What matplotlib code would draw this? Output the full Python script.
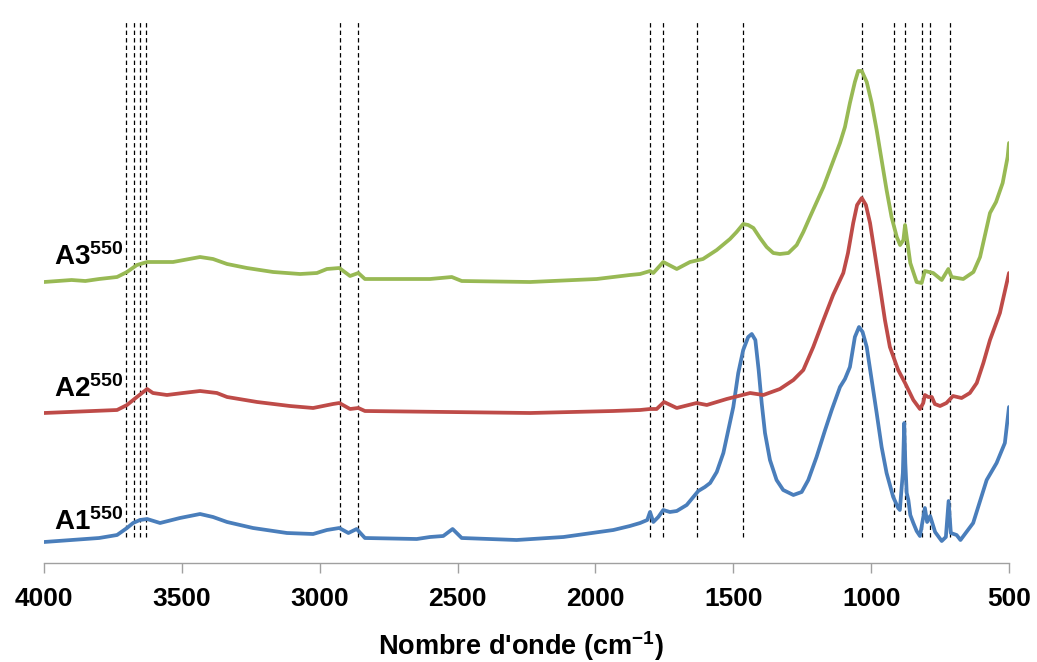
import matplotlib
matplotlib.use("Agg")
import matplotlib.pyplot as plt
import numpy as np

plt.rcParams['font.family'] = ['Liberation Sans', 'DejaVu Sans']
plt.rcParams['mathtext.fontset'] = 'custom'
plt.rcParams['mathtext.rm'] = 'Liberation Sans:bold'
plt.rcParams['mathtext.bf'] = 'Liberation Sans:bold'
plt.rcParams['mathtext.default'] = 'bf'

# ---- data (wavenumber cm-1, relative absorbance, offset spectra) ----
wn_A3 = [4000, 3900, 3850, 3800, 3735, 3699, 3663, 3626, 3532, 3434, 3387, 3336, 3264, 3169, 3071,
         3010, 2974, 2929, 2890, 2860, 2836, 2600, 2521, 2485,
         2237, 1995, 1875, 1838, 1814, 1802, 1790, 1754, 1705, 1657, 1610, 1560, 1512, 1488, 1464,
         1446, 1427, 1403, 1379, 1355, 1331, 1300, 1270, 1246, 1222, 1173, 1143, 1113, 1095, 1077,
         1059, 1047, 1034, 1016, 998, 980, 962, 944, 926, 907, 895, 883, 877, 871, 858, 835, 817,
         805, 775, 744, 720, 708, 666, 629, 605, 569, 547, 523, 505, 500]
ab_A3 = [281, 283, 282, 284, 286, 291, 298, 301, 301, 306, 304, 299, 295, 291, 289,
         290, 294, 295, 287, 290, 284, 284, 286, 282,
         281, 284, 288, 289, 291, 292, 290, 301, 294, 301, 304, 313, 324, 331, 339,
         338, 335, 325, 316, 310, 309, 310, 318, 331, 346, 376, 398, 420, 436, 460,
         481, 492, 492, 481, 460, 433, 403, 373, 346, 326, 318, 323, 338, 326, 300, 281, 280,
         292, 290, 283, 294, 286, 284, 291, 306, 350, 361, 380, 406, 420]

wn_A2 = [4000, 3735, 3699, 3663, 3626, 3605, 3554, 3496, 3434, 3373, 3336, 3227, 3108, 3024, 2952,
         2929, 2890, 2860, 2836,
         2237, 1935, 1838, 1802, 1778, 1751, 1705, 1633, 1596, 1524, 1439, 1391, 1331, 1282, 1246,
         1210, 1173, 1138, 1101, 1084, 1065, 1051, 1034, 1019, 1004, 987, 968, 950, 932, 902, 877,
         847, 823, 811, 805, 793, 780, 769, 750, 727, 703, 672, 642, 617, 593, 569, 533, 500]
ab_A2 = [150, 153, 158, 166, 174, 170, 168, 170, 172, 170, 166, 161, 157, 155, 159,
         160, 154, 155, 152,
         150, 152, 153, 154, 154, 161, 155, 160, 158, 164, 170, 168, 174, 183, 193,
         216, 243, 268, 290, 310, 340, 358, 365, 358, 340, 310, 276, 243, 216, 193, 180,
         163, 154, 160, 168, 166, 166, 159, 157, 160, 167, 165, 170, 180, 200, 223, 250, 290]

wn_A1 = [4000, 3900, 3800, 3735, 3699, 3677, 3652, 3626, 3579, 3507, 3434, 3387, 3336, 3242, 3119,
         3024, 2974, 2929, 2896, 2866, 2836, 2648,
         2600, 2552, 2518, 2485, 2286, 2116, 1935, 1875, 1838, 1812, 1802, 1790, 1772, 1754, 1730,
         1705, 1669, 1627, 1603, 1584, 1560, 1536, 1518, 1500, 1482, 1464, 1446, 1433, 1420, 1408,
         1397, 1385, 1367, 1343, 1319, 1282, 1252, 1228, 1198, 1167, 1143, 1113, 1095, 1077, 1059,
         1044, 1031, 1016, 998, 980, 962, 944, 920, 902, 896, 885, 880, 876, 871, 865, 858, 847,
         835, 823, 805, 797, 786, 768, 744, 729, 719, 711, 690, 676, 630, 581, 545, 515, 500]
ab_A1 = [21, 23, 25, 28, 35, 40, 43, 44, 40, 45, 49, 46, 41, 35, 30,
         29, 33, 35, 30, 34, 25, 24,
         26, 27, 34, 25, 23, 26, 33, 37, 40, 43, 51, 41, 46, 53, 51,
         52, 58, 72, 76, 80, 91, 110, 133, 156, 190, 213, 226, 229, 223, 193,
         160, 130, 103, 83, 73, 68, 71, 83, 106, 133, 153, 176, 184, 196, 226,
         236, 231, 216, 183, 150, 116, 90, 66, 55, 53, 90, 140, 100, 70, 63, 48, 40,
         32, 27, 55, 41, 47, 31, 22, 26, 62, 30, 28, 23, 40, 83, 100, 120, 156]

band_wn = [3704, 3674, 3653, 3630, 2926, 2861, 1801, 1754, 1630, 1466, 1034, 917, 877, 817, 786, 714]

x_ticks = [4000, 3500, 3000, 2500, 2000, 1500, 1000, 500]
series_labels = ["A1", "A2", "A3"]
label_heights = [33, 166, 298]

colors = ['#4a7ebb', '#be4b48', '#98b954']

# ---- figure ----
fig = plt.figure(figsize=(10.37, 6.62), dpi=100)
ax = fig.add_axes([44/1037, 99/662, 965/1037, 548/662])
ax.set_xlim(4000, 500)
ax.set_ylim(0, 548)

for wn in band_wn:
    ax.axvline(wn, ymin=26/548, ymax=543/548, color='black', lw=0.9,
               linestyle=(0, (3.5, 2.5)), zorder=1)

for wn, ab, c in [(wn_A1, ab_A1, colors[0]), (wn_A2, ab_A2, colors[1]), (wn_A3, ab_A3, colors[2])]:
    ax.plot(wn, ab, color=c, lw=2.7, solid_joinstyle='round', solid_capstyle='round', zorder=2)

for lab, h in zip(series_labels, label_heights):
    ax.text(3962, h, lab + r"$^{550}$", fontsize=20, fontweight='bold', ha='left',
            va='baseline', color='black', zorder=3)

for s in ['left', 'right', 'top']:
    ax.spines[s].set_visible(False)
ax.spines['bottom'].set_color('#a0a0a0')
ax.spines['bottom'].set_linewidth(1.0)
ax.set_yticks([])
ax.set_xticks(x_ticks)
ax.set_xticklabels([str(t) for t in x_ticks], fontsize=19, fontweight='bold')
ax.tick_params(axis='x', direction='out', length=7, width=1.0, color='#a0a0a0', pad=10)

fig.text(521/1037, 7/662, r"Nombre d'onde (cm$^{-1}$)", fontsize=19.5, fontweight='bold',
         ha='center', va='baseline')

fig.savefig('out.png', dpi=100)
